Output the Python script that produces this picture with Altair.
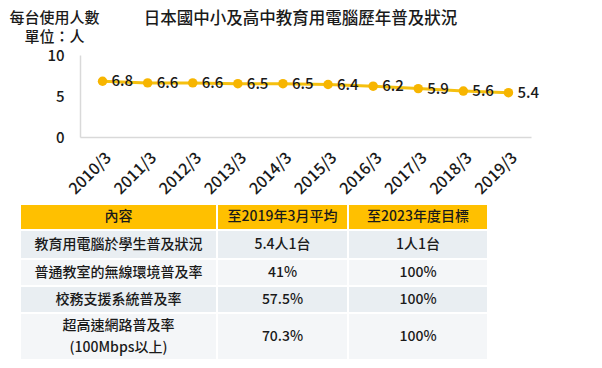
import altair as alt
import pandas as pd

# ---------------- data ----------------
years = ["2010/3", "2011/3", "2012/3", "2013/3", "2014/3",
         "2015/3", "2016/3", "2017/3", "2018/3", "2019/3"]
persons_per_pc = [6.8, 6.6, 6.6, 6.5, 6.5, 6.4, 6.2, 5.9, 5.6, 5.4]

header = ["內容", "至2019年3月平均", "至2023年度目標"]
items = ["教育用電腦於學生普及狀況", "普通教室的無線環境普及率",
         "校務支援系統普及率", "超高速網路普及率\n(100Mbps以上)"]
current = ["5.4人1台", "41%", "57.5%", "70.3%"]
target = ["1人1台", "100%", "100%", "100%"]

# ---------------- style / layout ----------------
FONT = "Noto Sans CJK TC"
TEXT = "#1a1a1a"
AXIS_GRAY = "#D9D9D9"
WEIGHT = 500
LINE_H = 22
col_edges = [0, 197, 328, 468]
row_edges = [0, 26, 55, 82, 109, 156]
row_fills = ["#FFC000", "#E9EEF2", "#F4F6F8", "#E9EEF2", "#F4F6F8"]

line_df = pd.DataFrame({"year": years, "value": persons_per_pc})

rows = [header] + [list(r) for r in zip(items, current, target)]
cells = []
for r, row in enumerate(rows):
    for c, txt in enumerate(row):
        n_lines = txt.count("\n") + 1
        cells.append(dict(
            x0=col_edges[c], x1=col_edges[c + 1],
            y0=row_edges[r], y1=row_edges[r + 1],
            xc=(col_edges[c] + col_edges[c + 1]) / 2,
            # centre a multi-line block vertically in its cell
            yc=(row_edges[r] + row_edges[r + 1]) / 2 - (n_lines - 1) * LINE_H / 2,
            label=txt, fill=row_fills[r]))
cells_df = pd.DataFrame(cells)

# ---------------- line chart ----------------
base = alt.Chart(line_df).encode(
    x=alt.X("year:N", sort=years,
            scale=alt.Scale(type="point", padding=0.5),
            axis=alt.Axis(title=None, labelAngle=-45, labelFontSize=16,
                          labelFont=FONT, labelColor=TEXT, ticks=False,
                          labelFontWeight=WEIGHT,
                          tickSize=0, labelPadding=12, domainColor=AXIS_GRAY,
                          domainWidth=1.5, grid=False)),
    y=alt.Y("value:Q", scale=alt.Scale(domain=[0, 10], nice=False),
            axis=alt.Axis(values=[0, 5, 10], title=["每台使用人數", "單位：人"],
                          titleAngle=0, titleX=-26, titleY=-45,
                          titleAlign="center", titleBaseline="top",
                          titleFontSize=15, titleFont=FONT,
                          titleFontWeight=WEIGHT, titleColor=TEXT,
                          titleLineHeight=19, labelFontSize=15,
                          labelFontWeight=WEIGHT,
                          labelFont=FONT, labelColor=TEXT, ticks=False,
                          tickSize=0, labelPadding=16, domainColor=AXIS_GRAY,
                          domainWidth=1.5, grid=False)),
)

line = base.mark_line(color="#F5C010", strokeWidth=3)
points = base.mark_circle(size=90, color="#F7B500", opacity=1)
labels = base.mark_text(align="left", baseline="middle", dx=9, fontSize=15,
                        font=FONT, color=TEXT, fontWeight=WEIGHT).encode(
    text=alt.Text("value:Q", format=".1f"))

top = alt.layer(line, points, labels).properties(
    width=451, height=82,
    title=alt.TitleParams(text="日本國中小及高中教育用電腦歷年普及狀況",
                          fontSize=16.5, font=FONT, fontWeight=WEIGHT,
                          color=TEXT, anchor="middle", frame="group",
                          baseline="middle", offset=-25.5, dx=-5))

# ---------------- table ----------------
tx = alt.X("x0:Q", scale=alt.Scale(domain=[60, 511], nice=False, zero=False), axis=None)
ty = alt.Y("y0:Q", scale=alt.Scale(domain=[0, 156], nice=False, reverse=True), axis=None)

rects = alt.Chart(cells_df).mark_rect(stroke="white", strokeWidth=2).encode(
    x=tx, x2="x1:Q", y=ty, y2="y1:Q",
    fill=alt.Fill("fill:N", scale=None))
texts = alt.Chart(cells_df).mark_text(
    fontSize=14, font=FONT, color=TEXT, lineBreak="\n", lineHeight=LINE_H,
    fontWeight=WEIGHT, baseline="middle", align="center").encode(
    x=alt.X("xc:Q", scale=alt.Scale(domain=[60, 511], nice=False, zero=False), axis=None),
    y=alt.Y("yc:Q", scale=alt.Scale(domain=[0, 156], nice=False, reverse=True), axis=None),
    text="label:N")

table = alt.layer(rects, texts).properties(width=451, height=156)

chart = alt.vconcat(top, table, spacing=6).properties(
    padding={"left": 0, "top": 2, "right": 0, "bottom": 0},
    background="white",
).configure_view(stroke=None)

chart.save("out.html", embed_options={"renderer": "svg", "actions": False})
